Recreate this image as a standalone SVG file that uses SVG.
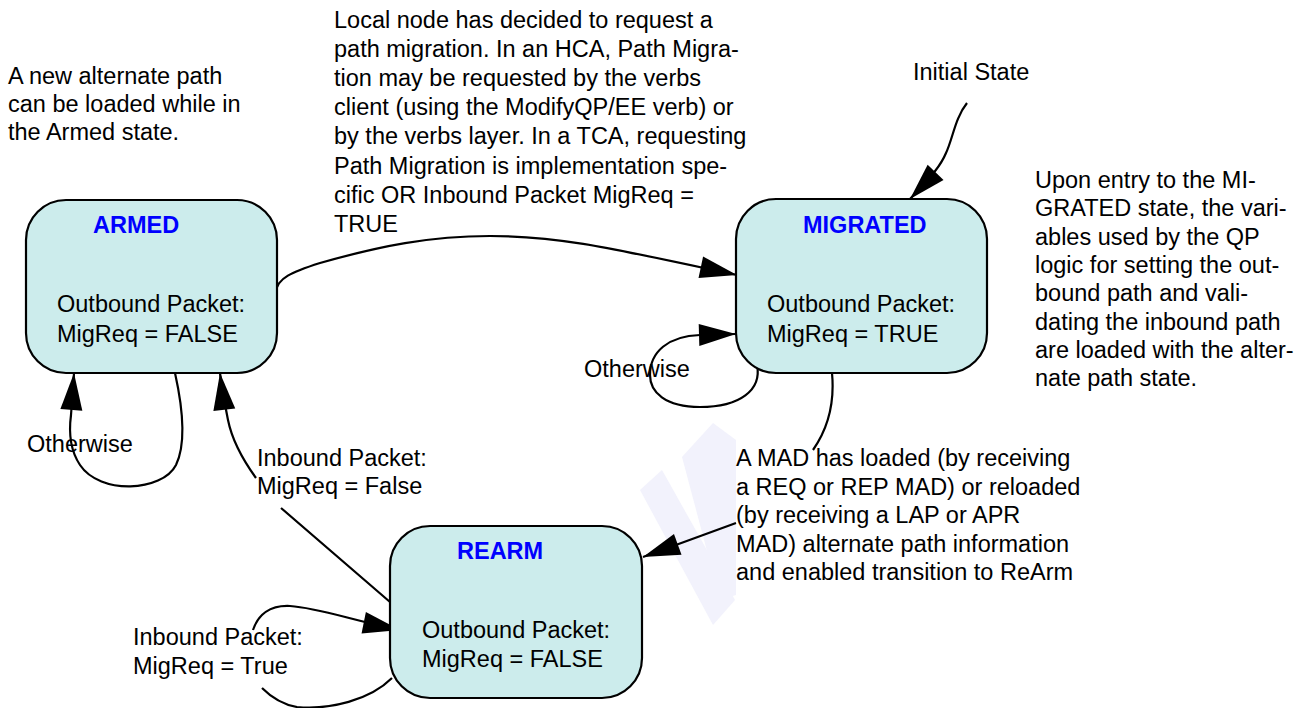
<svg xmlns="http://www.w3.org/2000/svg" width="1303" height="708" viewBox="0 0 1303 708">
<style>
text{font-family:"Liberation Sans",Arial,sans-serif;font-size:23.5px;fill:#000}
.title{font-weight:bold;fill:#0000ff}
.box{fill:#ccecec;stroke:#000;stroke-width:2.2}
.conn{fill:none;stroke:#000;stroke-width:2.2}
.wm{fill:#f2f2fc}
</style>
<defs>
<marker id="ah" markerUnits="userSpaceOnUse" markerWidth="40" markerHeight="24" viewBox="-39 -12 40 24" refX="0" refY="0" orient="auto">
<path d="M0,0 L-37,-11 L-37,11 Z" fill="#000"/>
</marker>
</defs>
<rect width="1303" height="708" fill="#fff"/>
<g id="watermark">
<polygon class="wm" points="682,457 713,423 736,440 736,595 720,600"/>
<polygon class="wm" points="640,490 662,470 735,600 713,625"/>
</g>
<g id="connectors">
<path class="conn" d="M276,292 C277,278 292,272 320,263 C380,246 430,236 490,236 C560,236 610,248 737,275" marker-end="url(#ah)"/>
<path class="conn" d="M175,373 C181,400 188,440 176,465 C162,492 100,495 80,465 C70,450 69,430 71,415 L74,373" marker-end="url(#ah)"/>
<path class="conn" d="M390,602 L281,508 M256,478 C243,460 232,440 228,420 C225,405 222,390 220,373" marker-end="url(#ah)"/>
<path class="conn" d="M757,365 C762,390 740,407 700,407 C665,407 650,392 650,375 C650,352 668,336 700,335 L736,334" marker-end="url(#ah)"/>
<path class="conn" d="M832,373 C835,405 827,430 813,450 M736,523 L643,557" marker-end="url(#ah)"/>
<path class="conn" d="M392,678 C370,700 330,710 297,707 C285,705 272,698 262,688 M253,630 C258,615 270,605 290,606 C320,608 350,620 400,630" marker-end="url(#ah)"/>
<path class="conn" d="M967,103 C955,118 953,138 946,153 C941,165 933,175 910,199" marker-end="url(#ah)"/>
</g>
<g id="armed">
<rect class="box" x="26" y="200" width="251" height="173" rx="40"/>
<text class="title" x="93" y="233">ARMED</text>
<text x="57" y="312">Outbound Packet:</text>
<text x="57" y="341.5">MigReq = FALSE</text>
</g>
<g id="migrated">
<rect class="box" x="736" y="199" width="251" height="174" rx="40"/>
<text class="title" x="803" y="233">MIGRATED</text>
<text x="767" y="312">Outbound Packet:</text>
<text x="767" y="341.5">MigReq = TRUE</text>
</g>
<g id="rearm">
<rect class="box" x="390" y="526" width="252" height="172" rx="40"/>
<text class="title" x="457" y="559">REARM</text>
<text x="422" y="638">Outbound Packet:</text>
<text x="422" y="667">MigReq = FALSE</text>
</g>
<g id="labels">
<text x="8" y="84">A new alternate path</text>
<text x="8" y="112">can be loaded while in</text>
<text x="8" y="140">the Armed state.</text>
<text x="334" y="28">Local node has decided to request a</text>
<text x="334" y="57">path migration. In an HCA, Path Migra-</text>
<text x="334" y="86">tion may be requested by the verbs</text>
<text x="334" y="115">client (using the ModifyQP/EE verb) or</text>
<text x="334" y="144">by the verbs layer. In a TCA, requesting</text>
<text x="334" y="174">Path Migration is implementation spe-</text>
<text x="334" y="203">cific OR Inbound Packet MigReq =</text>
<text x="334" y="232">TRUE</text>
<text x="913" y="80">Initial State</text>
<text x="1035" y="188">Upon entry to the MI-</text>
<text x="1035" y="216.3">GRATED state, the vari-</text>
<text x="1035" y="244.6">ables used by the QP</text>
<text x="1035" y="272.9">logic for setting the out-</text>
<text x="1035" y="301.2">bound path and vali-</text>
<text x="1035" y="329.5">dating the inbound path</text>
<text x="1035" y="357.8">are loaded with the alter-</text>
<text x="1035" y="386.1">nate path state.</text>
<text x="27" y="452">Otherwise</text>
<text x="584" y="377">Otherwise</text>
<text x="257" y="466">Inbound Packet:</text>
<text x="257" y="493.5">MigReq = False</text>
<text x="736" y="466">A MAD has loaded (by receiving</text>
<text x="736" y="494.5">a REQ or REP MAD) or reloaded</text>
<text x="736" y="523">(by receiving a LAP or APR</text>
<text x="736" y="551.5">MAD) alternate path information</text>
<text x="736" y="580">and enabled transition to ReArm</text>
<text x="133" y="645">Inbound Packet:</text>
<text x="133" y="674">MigReq = True</text>
</g>
</svg>
